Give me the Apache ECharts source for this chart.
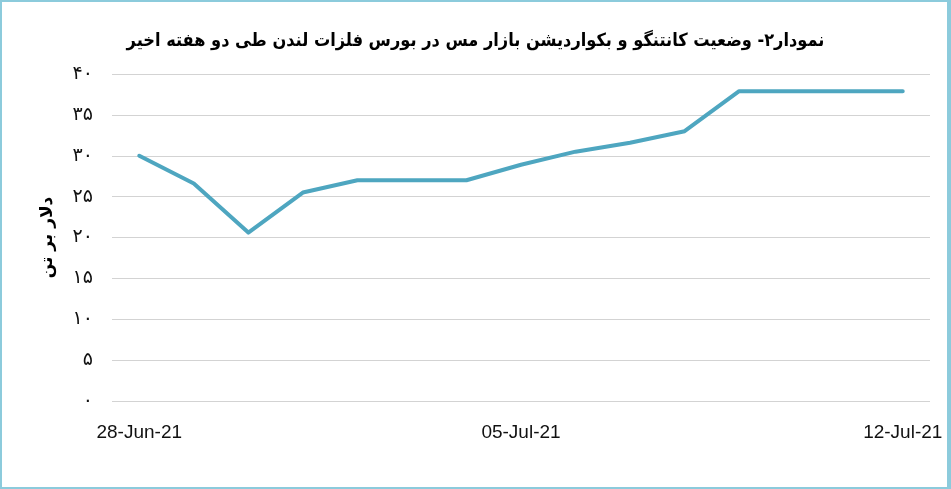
<!DOCTYPE html>
<html><head><meta charset="utf-8">
<script src="https://cdn.jsdelivr.net/npm/echarts@6/dist/echarts.min.js"></script>
<style>
html,body{margin:0;padding:0;background:#fff;}
#frame{position:absolute;left:0;top:0;width:951px;height:489px;box-sizing:border-box;border:2px solid #8ccbdc;border-right-width:4px;background:#fff;}
#chart{position:absolute;left:0;top:0;width:951px;height:489px;}
</style></head>
<body>
<div id="frame"></div>
<div id="chart"></div>
<script>
const titleText = 'نمودار۲- وضعیت کانتنگو و بکواردیشن بازار مس در بورس فلزات لندن طی دو هفته اخیر';
const yAxisName = 'دلار بر تن';
const categories = ['28-Jun-21','29-Jun-21','30-Jun-21','01-Jul-21','02-Jul-21','03-Jul-21','04-Jul-21','05-Jul-21','06-Jul-21','07-Jul-21','08-Jul-21','09-Jul-21','10-Jul-21','11-Jul-21','12-Jul-21'];
const values = [30, 26.6, 20.6, 25.5, 27, 27, 27, 28.9, 30.5, 31.6, 33, 37.9, 37.9, 37.9, 37.9];
const shownLabels = ['28-Jun-21','05-Jul-21','12-Jul-21'];
const yMin = 0, yMax = 40, yStep = 5;

const fa = n => String(n).replace(/\d/g, d => '۰۱۲۳۴۵۶۷۸۹'[d]);
const chart = echarts.init(document.getElementById('chart'), null, {renderer:'canvas'});
chart.setOption({
  backgroundColor: 'transparent',
  animation: false,
  title: {
    text: titleText, left: 'center', top: 27,
    textStyle: {fontFamily: '"DejaVu Sans Condensed", "DejaVu Sans"', fontWeight: 'bold', fontSize: 18, color: '#000'}
  },
  grid: {left: 112, right: 21, top: 74, bottom: 88},
  xAxis: {
    type: 'category', data: categories, boundaryGap: true,
    axisLine: {show: false}, axisTick: {show: false},
    axisLabel: {
      interval: 0, margin: 22, fontFamily: 'Liberation Sans', fontSize: 19, color: '#111',
      formatter: v => shownLabels.includes(v) ? v : ''
    }
  },
  yAxis: {
    type: 'value', min: yMin, max: yMax, interval: yStep,
    name: yAxisName, nameLocation: 'middle', nameRotate: 90, nameGap: 56,
    nameTextStyle: {fontFamily: 'DejaVu Sans', fontWeight: 'bold', fontSize: 17, color: '#000'},
    axisLine: {show: false}, axisTick: {show: false},
    axisLabel: {margin: 19, fontFamily: 'DejaVu Sans', fontSize: 19, color: '#111', formatter: v => fa(v)},
    splitLine: {lineStyle: {color: '#d3d3d3', width: 1}}
  },
  series: [{
    type: 'line', data: values, symbol: 'none',
    lineStyle: {color: '#4ea6c0', width: 4, cap: 'round', join: 'round'}
  }]
});
</script>
</body></html>
